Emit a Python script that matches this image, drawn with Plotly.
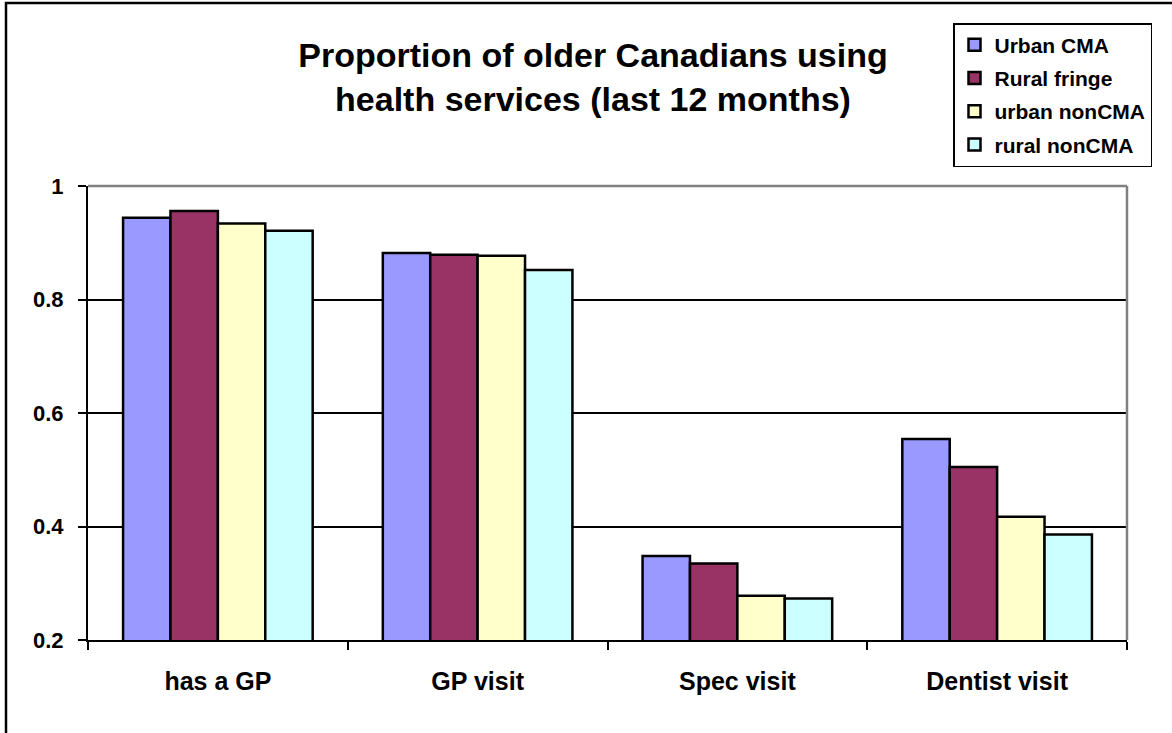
import plotly.graph_objects as go

categories = ["has a GP", "GP visit", "Spec visit", "Dentist visit"]
series_names = ["Urban CMA", "Rural fringe", "urban nonCMA", "rural nonCMA"]
urban_cma = [0.944, 0.882, 0.348, 0.554]
rural_fringe = [0.956, 0.879, 0.335, 0.505]
urban_noncma = [0.934, 0.877, 0.278, 0.417]
rural_noncma = [0.921, 0.852, 0.273, 0.386]
colors = ["#9999FF", "#993366", "#FFFFCC", "#CCFFFF"]
y_ticks = [0.2, 0.4, 0.6, 0.8, 1.0]
y_tick_labels = ["0.2", "0.4", "0.6", "0.8", "1"]

FONT = "Liberation Sans, Arial, sans-serif"

W, H = 1172, 733
L, R, T, B = 88, 1127, 186, 640   # plot-area pixels
pw, ph = R - L, B - T

def px_x(x):
    return (x - L) / pw

def px_y(y):
    return (B - y) / ph

fig = go.Figure()
for i, (name, vals) in enumerate(zip(series_names, [urban_cma, rural_fringe, urban_noncma, rural_noncma])):
    fig.add_trace(go.Bar(
        x=categories, y=vals, name=name, legendgroup=name,
        marker=dict(color=colors[i], line=dict(color="black", width=2.5)),
        hoverinfo="x+y+name",
    ))

fig.update_layout(
    width=W, height=H,
    margin=dict(l=L, r=W - R, t=T, b=H - B, autoexpand=False),
    paper_bgcolor="white", plot_bgcolor="white",
    barmode="group", bargap=0.27, bargroupgap=0,
    font=dict(family=FONT, color="black", size=21, weight=700),
    title=dict(
        text="Proportion of older Canadians using<br>health services (last 12 months)",
        font=dict(family=FONT, size=34, color="black", weight=700),
        x=593 / W, xanchor="center", xref="container",
        y=1 - 67 / H, yanchor="middle", yref="container",
    ),
    legend=dict(
        x=px_x(1152), xanchor="right", y=px_y(23), yanchor="top",
        bgcolor="white", bordercolor="black", borderwidth=1.5,
        font=dict(family=FONT, size=21, color="black", weight=700),
        tracegroupgap=3, itemwidth=30,
    ),
    showlegend=True,
)

fig.update_xaxes(
    type="category", tickson="boundaries",
    showline=True, linecolor="black", linewidth=2,
    ticks="outside", ticklen=8, tickwidth=2, tickcolor="black",
    tickfont=dict(family=FONT, size=25, color="black", weight=700),
    ticklabelstandoff=18, showgrid=False, zeroline=False,
)
fig.update_yaxes(
    range=[0.2, 1.0], tickvals=y_ticks, ticktext=y_tick_labels,
    showline=True, linecolor="black", linewidth=2,
    ticks="outside", ticklen=8, tickwidth=2, tickcolor="black",
    tickfont=dict(family=FONT, size=22, color="black", weight=700),
    ticklabelstandoff=10,
    showgrid=True, gridcolor="black", gridwidth=1.5, zeroline=False,
)

# plot-area border (top, right) in gray
fig.add_shape(type="line", xref="paper", yref="paper", x0=0, x1=1, y0=1, y1=1,
              line=dict(color="#808080", width=2.5), layer="above")
fig.add_shape(type="line", xref="paper", yref="paper", x0=1, x1=1, y0=0, y1=1,
              line=dict(color="#808080", width=2.5), layer="above")
# outer chart border
fig.add_shape(type="rect", xref="paper", yref="paper",
              x0=px_x(6), x1=px_x(1180), y0=px_y(3), y1=px_y(745),
              line=dict(color="black", width=2.5), fillcolor="rgba(0,0,0,0)", layer="above")

fig.write_html(
    "out.html",
    config={"displayModeBar": False},
    post_script="document.body.style.margin='0';document.body.style.overflow='hidden';",
)
